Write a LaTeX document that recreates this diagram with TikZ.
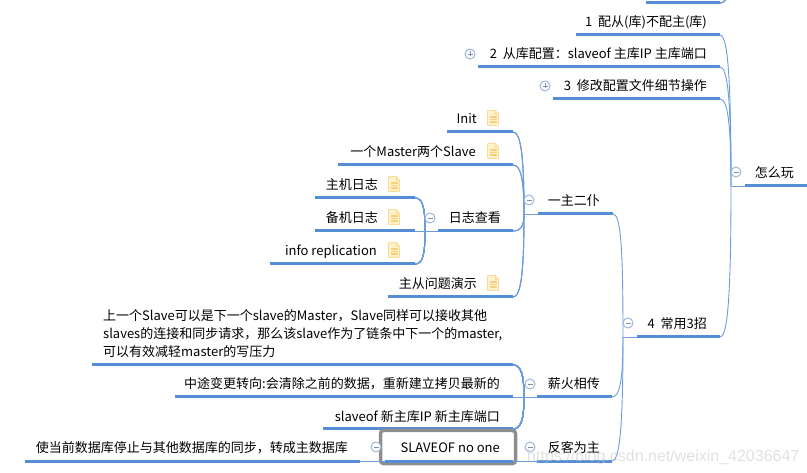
\documentclass[tikz,border=0pt]{standalone}
\usepackage{fontspec}
\usepackage{xcolor}
\setmainfont{Noto Sans CJK SC}
\newfontfamily\markfont{Liberation Sans}
\usetikzlibrary{positioning,calc}
\definecolor{linecol}{HTML}{558ED5}
\definecolor{curvecol}{HTML}{6C9CDD}
\definecolor{togglecol}{HTML}{9DB7DE}
\definecolor{markcol}{HTML}{7F90A8}
\definecolor{notefill}{HTML}{FFF2CC}
\definecolor{notedraw}{HTML}{F9DC94}
\definecolor{selcol}{HTML}{8E8E8E}
\tikzset{
  topicline/.style={linecol,line width=3pt},
  branch/.style={curvecol,line width=.9pt},
  topictext/.style={anchor=base east,inner sep=0pt,font=\fontsize{13}{18}\selectfont},
  toggle/.style={circle,draw=togglecol,fill=white,line width=1pt,minimum size=10pt,inner sep=0pt},
  collapse/.style={toggle,path picture={
    \draw[markcol,line width=.8pt] ([xshift=2.5pt]path picture bounding box.west) -- ([xshift=-2.5pt]path picture bounding box.east);}},
  expand/.style={toggle,path picture={
    \draw[markcol,line width=.8pt] ([xshift=2.5pt]path picture bounding box.west) -- ([xshift=-2.5pt]path picture bounding box.east);
    \draw[markcol,line width=.8pt] ([yshift=2.5pt]path picture bounding box.south) -- ([yshift=-2.5pt]path picture bounding box.north);}},
  noteicon/.pic={
    \draw[notedraw,fill=notefill,line width=.9pt,rounded corners=.8pt] (-5.5,-7.5) -- (2,-7.5) -- (5.5,-4) -- (5.5,7.5) -- (-5.5,7.5) -- cycle;
    \draw[notedraw,line width=.8pt] (2,-7.5) -- (2,-4) -- (5.5,-4);
    \foreach \r in {-1,1.5,4}
      \draw[notedraw!85!orange,line width=1.1pt] (-3.5,\r) -- (3.5,\r);
  }
}
% name, left end, right end, line y, gap to text, text
\newcommand{\topic}[6]{
  \coordinate (#1-l) at (#2,#4);
  \coordinate (#1-r) at (#3,#4);
  \draw[topicline] (#1-l) -- (#1-r);
  \node[topictext] (#1) at ({#3-#5},{#4-8}) {#6};
}
% from a line end to a junction
\newcommand{\branchto}[2]{
  \draw[branch] (#1) .. controls +(8,0) and ($(#2)!.7!(#2 |- #1)$) .. (#2);
}
\begin{document}
\begin{tikzpicture}[x=1pt,y=-1pt]
    \useasboundingbox (0,0) rectangle (807,473);
    \clip (0,0) rectangle (807,473);

      % Junctions
      \coordinate (jplay) at (731,186);
      \coordinate (jtips) at (623,337);
      \coordinate (jone) at (524,214);
      \coordinate (jlog) at (425,231);
      \coordinate (jfire) at (524,397);
      \coordinate (jtop) at (728,-6);

      % Topics on the right
      \coordinate (top-l) at (646,3);
      \coordinate (top-r) at (720,3);
      \draw[topicline] (top-l) -- (top-r);
      \topic{slaveonly}{576}{720}{35}{13}{1\ \ 配从(库)不配主(库)}
      \topic{conf}{478}{720}{67}{13}{2\ \ 从库配置：slaveof 主库IP 主库端口}
      \topic{edit}{553}{720}{99}{13}{3\ \ 修改配置文件细节操作}
      \topic{play}{745}{807}{186}{13}{怎么玩}
      \topic{tips}{637}{720}{337}{13}{4\ \ 常用3招}

      % One master two slaves
      \topic{one}{538}{613}{214}{13}{一主二仆}
      \topic{init}{447}{513}{132}{36}{Init}
      \topic{twoslave}{338}{513}{165}{37}{一个Master两个Slave}
      \topic{log}{438}{513}{231}{12}{日志查看}
      \topic{demo}{388}{513}{297}{36}{主从问题演示}
      \topic{mlog}{315}{415}{198}{37}{主机日志}
      \topic{blog}{315}{415}{231}{37}{备机日志}
      \topic{repl}{270}{415}{264}{38}{info replication}

      % Chain
      \topic{fire}{537}{612}{397}{12}{薪火相传}
      \topic{chain}{92}{513}{365}{13}{}
      \node[topictext,anchor=base west,align=left] (chaintext) at (103,357)
        {上一个Slave可以是下一个slave的Master，Slave同样可以接收其他\\
         slaves的连接和同步请求，那么该slave作为了链条中下一个的master,\\
         可以有效减轻master的写压力};
      \topic{switch}{175}{513}{397}{13}{中途变更转向:会清除之前的数据，重新建立拷贝最新的}
      \topic{newmaster}{323}{513}{429}{13}{slaveof 新主库IP 新主库端口}

      % Take over
      \topic{over}{537}{612}{461}{12}{反客为主}
      \topic{stop}{25}{360}{461}{12}{使当前数据库停止与其他数据库的同步，转成主数据库}
      \node[draw=selcol,line width=3.5pt,rounded corners=3pt,fill=white,minimum width=135pt,minimum height=33pt] (selbox) at (448,447) {};
      \topic{noone}{385}{513}{461}{13}{SLAVEOF no one}

      % Branches
      \foreach \c in {slaveonly-r,conf-r,edit-r,tips-r}
        \branchto{\c}{jplay}
      \draw[branch] (top-r) to[out=0,in=-110] (jtop);
      \foreach \c in {one-r,fire-r,over-r}
        \branchto{\c}{jtips}
      \foreach \c in {init-r,twoslave-r,log-r,demo-r}
        \branchto{\c}{jone}
      \foreach \c in {mlog-r,blog-r,repl-r}
        \branchto{\c}{jlog}
      \foreach \c in {chain-r,switch-r,newmaster-r}
        \branchto{\c}{jfire}
      \draw[branch,line width=.7pt] (jplay) -- (play-l);
      \draw[branch,line width=.7pt] (jtips) -- (tips-l);
      \draw[branch,line width=.7pt] (jone) -- (one-l);
      \draw[branch,line width=.7pt] (jlog) -- (log-l);
      \draw[branch,line width=.7pt] (jfire) -- (fire-l);
      \draw[branch,line width=.7pt] (noone-r) -- (over-l);
      \draw[branch,line width=.7pt] (stop-r) -- (noone-l);

      % Toggles
      \foreach \n/\x/\y in {tplay/736/172,ttips/628/323,tone/529/200,tlog/430/218,tfire/530/384,tover/530/447,tnoone/376/447}
        \node[collapse] (\n) at (\x,\y) {};
      \node[expand] (tconf) at (470,54) {};
      \node[expand] (tedit) at (545,86) {};

      % Notes
      \foreach \x/\y in {493/118,493/151,394/184,394/217,394/250,493/283}
        \pic at (\x,\y) {noteicon};

      % Watermark
      \node[text=gray!40,opacity=.6,font=\markfont\fontsize{16}{20}\selectfont,anchor=base west,inner sep=0pt] (mark) at (527,461) {https://blog.csdn.net/weixin\_42036647};
  \end{tikzpicture}
\end{document}
